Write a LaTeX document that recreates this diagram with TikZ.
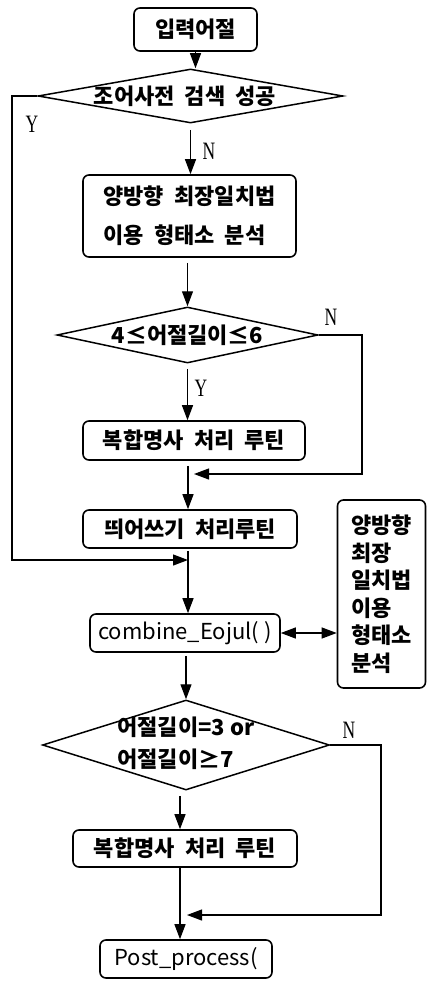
\documentclass[tikz,border=0pt]{standalone}
\usepackage{fontspec}
\setmainfont{Noto Sans CJK KR}[WordSpace=2]
\newfontfamily\latinfont{Noto Sans CJK KR}
\newfontfamily\ynfont{Liberation Serif}[FakeStretch=0.7]
\usetikzlibrary{shapes.geometric,arrows.meta}
\newcommand{\nowidth}[1]{\makebox[0pt]{#1}}

\begin{document}
\begin{tikzpicture}
	[x=1pt,y=-1pt,
	box/.style={draw,line width=1.6pt,rounded corners=6pt,inner sep=0pt,font=\bfseries\fontsize{22}{26}\selectfont},
	code/.style={box,font=\latinfont\mdseries\fontsize{22}{26}\selectfont},
	test/.style={diamond,draw,line width=1.5pt,inner sep=0pt,font=\bfseries\fontsize{22}{32}\selectfont},
	yn/.style={inner sep=0pt,font=\ynfont\fontsize{25}{25}\selectfont},
	arr/.style={line width=1.2pt,-{Triangle[length=15pt,width=11pt]}},
	twoway/.style={line width=1.2pt,{Triangle[length=15pt,width=11pt]}-{Triangle[length=15pt,width=11pt]}}]
	\useasboundingbox (0,0) rectangle (427,982);
	\path node (b1) at (195.5,29.5) [box,minimum width=123pt,minimum height=43pt] {입력어절}
		  node (d1) at (190.5,96) [test,minimum width=305pt,minimum height=54pt] {\nowidth{\hspace*{-11pt}조어사전 검색 성공}}
		  node (b2) at (189.5,216) [box,minimum width=213pt,minimum height=82pt,align=left,font=\bfseries\fontsize{22}{39}\selectfont] {양방향 최장일치법\\이용 형태소 분석}
		  node (d2) at (187.5,335) [test,minimum width=261pt,minimum height=56pt] {\nowidth{4≤어절길이≤6}}
		  node (b3) at (194,440.5) [box,minimum width=222pt,minimum height=39pt] {복합명사 처리 루틴}
		  node (b4) at (190,529) [box,minimum width=214pt,minimum height=38pt] {띄어쓰기 처리루틴}
		  node (b5) at (185,633) [code,minimum width=190pt,minimum height=38pt] {combine\_Eojul(\hspace{5pt})}
		  node (side) at (381.5,594) [box,minimum width=88pt,minimum height=188pt,align=left,font=\bfseries\fontsize{22}{27.5}\selectfont] {양방향\\최장\\일치법\\이용\\형태소\\분석}
		  node (d3) at (186,745) [test,minimum width=287pt,minimum height=90pt] {\nowidth{\raisebox{6pt}{\begin{tabular}{@{}l@{}}{\latinfont 어절길이=3 or}\\어절길이≥7\end{tabular}}}}
		  node (b6) at (185,848.5) [box,minimum width=224pt,minimum height=37pt] {복합명사 처리 루틴}
		  node (b7) at (186,959) [code,minimum width=172pt,minimum height=38pt] {Post\_process(}
		  node (y1) at (32,124.5) [yn] {Y}
		  node (n1) at (209,151) [yn] {N}
		  node (n2) at (331,317) [yn] {N}
		  node (y2) at (201,388) [yn] {Y}
		  node (n3) at (349,730) [yn] {N};
	\coordinate (m1) at (188,474);
	\coordinate (m2) at (188,560);
	\coordinate (m3) at (180,915);
	\coordinate (c1) at (12,560);
	\coordinate (c2) at (362,474);
	\coordinate (c3) at (381,915);
	\draw[arr] (b1.south) -- (b1.south |- d1.north);
	\draw[arr,shorten <=6pt] (d1.south) -- (d1.south |- b2.north);
	\draw[arr,shorten <=5pt] (d2.north |- b2.south) -- (d2.north);
	\draw[arr,shorten <=5pt] (d2.south) -- (d2.south |- b3.north);
	\draw[arr,shorten <=5pt] (m1 |- b3.south) -- (m1 |- b4.north);
	\draw[arr,shorten <=2pt] (m2 |- b4.south) -- (m2 |- b5.north);
	\draw[arr,shorten <=3pt] (d3.north |- b5.south) -- (d3.north);
	\draw[arr,shorten <=5pt] (m3 |- d3.south) -- (m3 |- b6.north);
	\draw[arr] (m3 |- b6.south) -- (m3 |- b7.north);
	\draw[twoway] (b5.east) -- (b5.east -| side.west);
	\draw[arr] (d1.west) -| (c1) -- (m2);
	\draw[arr,shorten >=6pt] (d2.east) -| (c2) -- (m1);
	\draw[arr,shorten >=7pt] (d3.east) -| (c3) -- (m3);
\end{tikzpicture}
\end{document}
